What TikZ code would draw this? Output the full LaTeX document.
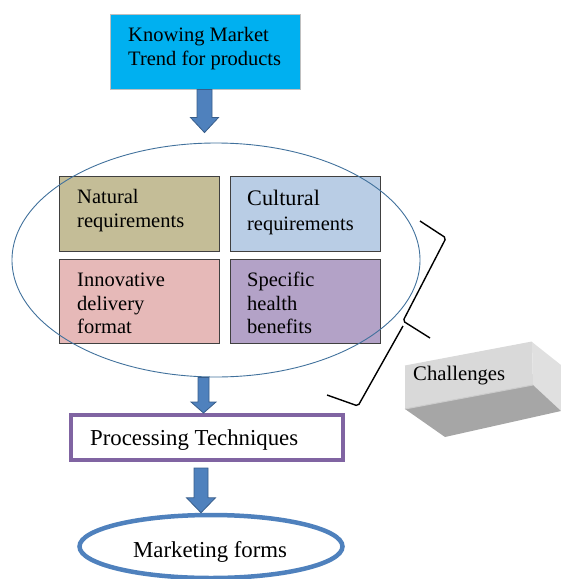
\documentclass[tikz,border=0pt]{standalone}
\usepackage{fontspec}
\setmainfont{Liberation Serif}
\usetikzlibrary{shapes.geometric,calc}
\definecolor{cyanbox}{HTML}{00B0F0}
\definecolor{natc}{HTML}{C4BD97}
\definecolor{culc}{HTML}{B9CDE5}
\definecolor{innc}{HTML}{E6B9B8}
\definecolor{spec}{HTML}{B3A2C7}
\definecolor{ellc}{HTML}{41719C}
\definecolor{procc}{HTML}{8064A2}
\definecolor{mktc}{HTML}{4F81BD}
\definecolor{arrf}{HTML}{4F81BD}
\definecolor{arrd}{HTML}{385D8A}
\newcommand\blkarrow[5]{%
  \filldraw[blockarrow] let \p1=(#1), \p2=(#2) in
  (\x1-#3,\y1) -- (\x1+#3,\y1) -- (\x1+#3,\y2+#5) -- (\x1+#4,\y2+#5) --
  (\x1,\y2) -- (\x1-#4,\y2+#5) -- (\x1-#3,\y2+#5) -- cycle;}
\newcommand\mlines[1]{\begin{tabular}[t]{@{}l@{}}#1\end{tabular}}
\tikzset{
  gridbox/.style={draw=black!75, line width=0.8pt, rectangle, inner sep=0pt},
  txt/.style={anchor=base west, inner sep=0pt, font=\fontsize{20.5}{23.6}\selectfont},
  bigtxt/.style={anchor=base west, inner sep=0pt, font=\fontsize{22.8}{26}\selectfont},
  blockarrow/.style={fill=arrf, draw=arrd, line width=0.8pt, line join=miter},
  bracestyle/.style={draw=black, line width=1.4pt, rounded corners=2pt}
}
\begin{document}
\begin{tikzpicture}[x=1pt,y=-1pt]
\useasboundingbox (0,0) rectangle (561,579);
% top box
\node[rectangle, fill=cyanbox, draw=black!25, line width=0.8pt, minimum width=190pt, minimum height=75pt, inner sep=0pt] (top) at (205,51.5) {};
\node[txt, font=\fontsize{20.5}{23.3}\selectfont] (toptxt) at (128,41.7) {\mlines{Knowing Market\\Trend for products}};
% grid boxes
\node[gridbox, fill=natc, minimum width=160pt, minimum height=75pt] (nat) at (139,213.5) {};
\node[gridbox, fill=culc, minimum width=150pt, minimum height=75pt] (cul) at (305,213.5) {};
\node[gridbox, fill=innc, minimum width=160pt, minimum height=84pt] (inn) at (139,301) {};
\node[gridbox, fill=spec, minimum width=150pt, minimum height=84pt] (spe) at (305,301) {};
\node[txt, font=\fontsize{20.5}{24}\selectfont] (nattxt) at (77,203.3) {\mlines{Natural\\requirements}};
\node[txt, font=\fontsize{20.4}{25}\selectfont] (cultxt) at (247,205) {\mlines{{\fontsize{22.2}{25}\selectfont Cultural}\\requirements}};
\node[txt, font=\fontsize{20.5}{23.4}\selectfont] (inntxt) at (77,286.7) {\mlines{Innovative\\delivery\\format}};
\node[txt, font=\fontsize{20.5}{23.4}\selectfont] (spetxt) at (247,286.7) {\mlines{Specific\\health\\benefits}};
% ellipse
\node[ellipse, draw=ellc, line width=0.9pt, minimum width=408pt, minimum height=234pt, inner sep=0pt] (ell) at (216,260) {};
% processing box
\node[rectangle, draw=procc, line width=4pt, fill=white, minimum width=272pt, minimum height=45pt, inner sep=0pt] (proc) at (207,437.5) {};
\node[bigtxt] (proctxt) at (90,445) {Processing Techniques};
% marketing ellipse
\node[ellipse, draw=mktc, line width=4.5pt, minimum width=263pt, minimum height=63pt, inner sep=0pt] (mkt) at (211,546.5) {};
\node[bigtxt] (mkttxt) at (133,557) {Marketing forms};
% arrows
\coordinate (a1s) at ($(top.south)+(-0.5,0)$);
\coordinate (a1e) at ($(ell.north)+(-11.5,-10)$);
\coordinate (a2s) at ($(ell.south)+(-12.5,0)$);
\coordinate (a2e) at ($(proc.north)+(-3.5,0)$);
\coordinate (a3s) at ($(proc.south)+(-6,6)$);
\coordinate (a3e) at ($(mkt.north)+(-10,0)$);
\blkarrow{a1s}{a1e}{7.5pt}{14pt}{15pt}
\blkarrow{a2s}{a2e}{5.5pt}{12.5pt}{11pt}
\blkarrow{a3s}{a3e}{7pt}{14.5pt}{15pt}
% brace
\draw[bracestyle] (420,221) -- (446,238) -- (403,321) -- (430,338);
\draw[bracestyle] (403,326) -- (358,406) -- (327,395);
% challenges 3D box
\fill[fill=black!15] (405,366) -- (532,342) -- (533,385) -- (405,409) -- cycle;
\fill[fill=black!12] (532,342) -- (561,365) -- (561,411) -- (533,385) -- cycle;
\fill[fill=black!35] (405,409) -- (533,385) -- (561,411) -- (445,437) -- cycle;
\draw[white!85!black, line width=1pt] (405,366) -- (532,342);
\draw[white!80!black, line width=1pt] (405,409) -- (533,385);
\node[txt, font=\fontsize{20.7}{24}\selectfont] (chal) at (413,380) {Challenges};
\end{tikzpicture}
\end{document}
